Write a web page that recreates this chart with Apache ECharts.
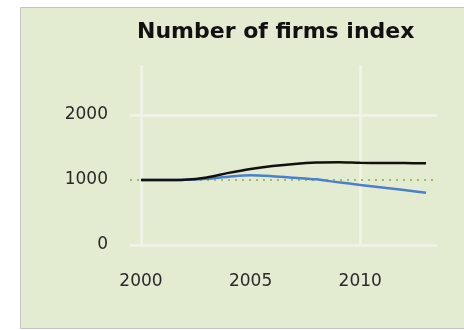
<!DOCTYPE html>
<html>
<head>
<meta charset="utf-8">
<script src="https://cdn.jsdelivr.net/npm/echarts@6/dist/echarts.min.js"></script>
<style>
html,body{margin:0;padding:0;background:#fff;}
#c{width:464px;height:330px;}
</style>
</head>
<body>
<div id="c"></div>
<script>
const years = ['2000','2001','2002','2003','2004','2005','2006','2007','2008','2009','2010','2011','2012','2013'];
const seriesA = [1000,1000,1005,1040,1110,1170,1215,1248,1268,1272,1264,1262,1260,1257];
const seriesB = [1000,1000,1003,1020,1050,1072,1058,1035,1010,965,925,885,845,805];
const baseLine = 1000;
const gridLinesY = [0, 2000];
const gridLinesX = ['2000','2010'];
const yTicks = {min:0, max:2770, interval:1000};

const chart = echarts.init(document.getElementById('c'), null, {renderer:'canvas'});
const white = '#f0f4e8';
const markData = [];
gridLinesY.forEach(v => markData.push({yAxis: v, lineStyle:{color:white, width:2.5, type:'solid'}}));
gridLinesX.forEach(v => markData.push({xAxis: v, lineStyle:{color:white, width:2.5, type:'solid'}}));
markData.push({yAxis: baseLine, lineStyle:{color:'#a3ba66', width:2, type:[2,5]}});

chart.setOption({
  animation:false,
  backgroundColor:'#fff',
  graphic:[{
    type:'rect', left:20, top:7, z:-10,
    shape:{x:0,y:0,width:450,height:321},
    style:{fill:'#e3ebd1', stroke:'#c4c4c0', lineWidth:1}
  }],
  title:{
    text:'Number of firms index', left:132, top:16,
    textStyle:{fontFamily:'DejaVu Sans', fontWeight:'bold', fontSize:22, color:'#111'}
  },
  grid:{left:130, right:27, top:65, bottom:85},
  xAxis:{
    type:'category', data:years, boundaryGap:true,
    axisLine:{show:false}, axisTick:{show:false}, splitLine:{show:false},
    axisLabel:{interval:4, margin:28, fontSize:17, color:'#2a2a2a', fontFamily:'DejaVu Sans'}
  },
  yAxis:{
    type:'value', min:yTicks.min, max:yTicks.max, interval:yTicks.interval,
    axisLine:{show:false}, axisTick:{show:false}, splitLine:{show:false},
    axisLabel:{showMaxLabel:false, margin:22, fontSize:17, color:'#2a2a2a', fontFamily:'DejaVu Sans',
      formatter: v => String(v)}
  },
  series:[
    {
      type:'line', data:seriesB, symbol:'none', smooth:0.3, z:3,
      lineStyle:{color:'#4a80cc', width:2.5}
    },
    {
      type:'line', data:seriesA, symbol:'none', smooth:0.3, z:4,
      lineStyle:{color:'#111', width:2.5},
      markLine:{silent:true, symbol:'none', label:{show:false}, z:1, data:markData}
    }
  ]
});
</script>
</body>
</html>
